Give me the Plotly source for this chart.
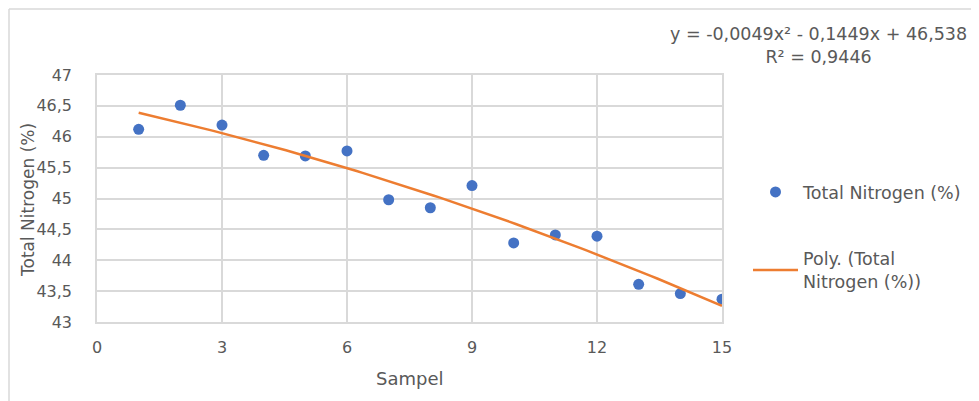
import numpy as np
import plotly.graph_objects as go

# Data
sampel = [1, 2, 3, 4, 5, 6, 7, 8, 9, 10, 11, 12, 13, 14, 15]
total_nitrogen = [46.12, 46.51, 46.19, 45.70, 45.69, 45.77, 44.98, 44.85, 45.21,
                  44.28, 44.41, 44.39, 43.61, 43.46, 43.37]
# Trendline coefficients as displayed on the chart (a2, a1, a0)
poly_coef = [-0.0049, -0.1449, 46.538]
y_tickvals = [43, 43.5, 44, 44.5, 45, 45.5, 46, 46.5, 47]
y_ticktext = ["43", "43,5", "44", "44,5", "45", "45,5", "46", "46,5", "47"]
x_tickvals = [0, 3, 6, 9, 12, 15]
x_ticktext = ["0", "3", "6", "9", "12", "15"]

FONT = "DejaVu Sans"
GRAY = "#595959"
GRID = "#d9d9d9"

trend_x = np.linspace(min(sampel), max(sampel), 100)
trend_y = np.polyval(poly_coef, trend_x)

fig = go.Figure()
fig.add_trace(go.Scatter(
    x=sampel, y=total_nitrogen, mode="markers",
    name="Total Nitrogen (%)",
    marker=dict(color="#4472C4", size=11),
    legendgroup="a",
))
fig.add_trace(go.Scatter(
    x=trend_x, y=trend_y, mode="lines",
    name="Poly. (Total<br>Nitrogen (%))",
    line=dict(color="#ED7D31", width=2.5),
    legendgroup="b",
))

# page body has an 8px margin: work in target-pixel coordinates, shifted
OFF = 8
W, H = 979 - OFF, 401 - OFF
PL, PR, PT, PB = 97, 722, 75, 322   # target plot-area pixels
L, T = PL - OFF, PT - OFF
pw, ph = PR - PL, PB - PT
R = W - L - pw
B = H - T - ph

def px2paper_x(px):
    return (px - PL) / pw

def px2paper_y(py):
    return (PB - py) / ph

fig.update_layout(
    width=W, height=H,
    margin=dict(l=L, r=R, t=T, b=B, autoexpand=False),
    paper_bgcolor="white", plot_bgcolor="white",
    font=dict(family=FONT, color=GRAY, size=16),
    xaxis=dict(
        range=[0, 15], tickvals=x_tickvals, ticktext=x_ticktext,
        showgrid=True, gridcolor=GRID, gridwidth=1.5,
        showline=True, linecolor=GRID, linewidth=1.5, mirror=True,
        ticks="outside", ticklen=10, tickcolor="rgba(0,0,0,0)",
        zeroline=False,
        tickfont=dict(size=16, color=GRAY),
    ),
    yaxis=dict(
        range=[43, 47], tickvals=y_tickvals, ticktext=y_ticktext,
        showgrid=True, gridcolor=GRID, gridwidth=1.5,
        showline=True, linecolor=GRID, linewidth=1.5, mirror=True,
        ticks="outside", ticklen=20, tickcolor="rgba(0,0,0,0)",
        zeroline=False,
        tickfont=dict(size=16, color=GRAY),
    ),
    legend=dict(
        x=px2paper_x(748), y=px2paper_y(174), xanchor="left", yanchor="top",
        font=dict(size=17.5, color=GRAY), tracegroupgap=41,
        itemwidth=45,
        bgcolor="rgba(0,0,0,0)",
    ),
    showlegend=True,
    annotations=[
        dict(
            text="y = -0,0049x² - 0,1449x + 46,538<br>R² = 0,9446",
            x=px2paper_x(818), y=px2paper_y(46), xref="paper", yref="paper",
            xanchor="center", yanchor="middle", align="center",
            showarrow=False, font=dict(size=17.5, color=GRAY),
        ),
        dict(
            text="Total Nitrogen (%)", textangle=-90,
            x=px2paper_x(28), y=px2paper_y(200), xref="paper", yref="paper",
            xanchor="center", yanchor="middle",
            showarrow=False, font=dict(size=17, color=GRAY),
        ),
        dict(
            text="Sampel",
            x=0.5, y=px2paper_y(378), xref="paper", yref="paper",
            xanchor="center", yanchor="middle",
            showarrow=False, font=dict(size=18, color=GRAY),
        ),
    ],
    shapes=[
        dict(type="line", xref="paper", yref="paper",
             x0=px2paper_x(9), x1=px2paper_x(9), y0=px2paper_y(9), y1=px2paper_y(410),
             line=dict(color=GRID, width=1.5)),
        dict(type="line", xref="paper", yref="paper",
             x0=px2paper_x(9), x1=px2paper_x(990), y0=px2paper_y(9), y1=px2paper_y(9),
             line=dict(color=GRID, width=1.5)),
    ],
)

fig.write_html("out.html")
